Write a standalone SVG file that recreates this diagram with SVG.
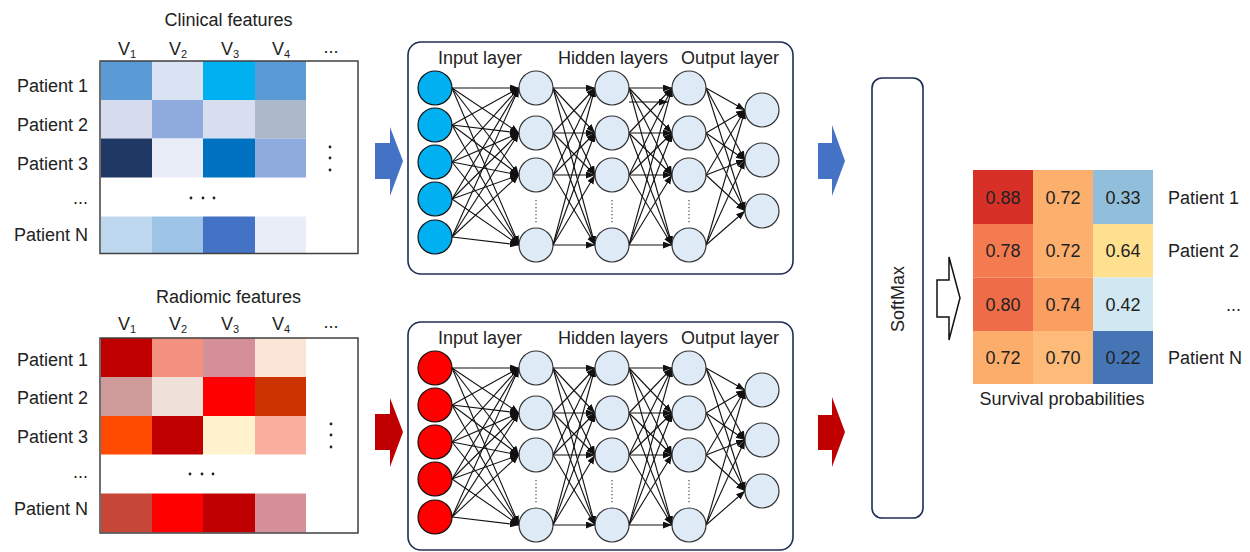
<svg xmlns="http://www.w3.org/2000/svg" width="1250" height="552" viewBox="0 0 1250 552">
<style>
text{font-family:"Liberation Sans",Arial,sans-serif;font-size:18px;fill:#222}
.r{text-anchor:end}
.m{text-anchor:middle}
.frame{fill:none;stroke:#404040;stroke-width:1.5}
.box{fill:#fff;stroke:#1F2D55;stroke-width:1.6}
.inB{fill:#00B0F0;stroke:#111;stroke-width:1.2}
.inR{fill:#FF0000;stroke:#111;stroke-width:1.2}
.hn{fill:#DEEBF7;stroke:#333;stroke-width:1.2}
.c line{stroke:#111;stroke-width:1.1;marker-end:url(#ah)}
.dot{fill:#222}
.vd{stroke:#555;stroke-width:1.3;stroke-dasharray:1.3 2.2}
.sub{font-size:11px}
</style>
<defs>
<marker id="ah" markerUnits="userSpaceOnUse" markerWidth="10" markerHeight="8" refX="9" refY="3.5" orient="auto">
<path d="M0,0 L9,3.5 L0,7 z" fill="#111"/>
</marker>
</defs>
<rect width="1250" height="552" fill="#fff"/>

<!-- Clinical matrix -->
<g id="clinical-matrix">
<text x="228.5" y="26" class="m">Clinical features</text>
<text x="118" y="55">V<tspan class="sub" dy="3">1</tspan></text>
<text x="169" y="55">V<tspan class="sub" dy="3">2</tspan></text>
<text x="221" y="55">V<tspan class="sub" dy="3">3</tspan></text>
<text x="272" y="55">V<tspan class="sub" dy="3">4</tspan></text>
<text x="331" y="53" class="m">...</text>
<text x="88" y="92" class="r">Patient 1</text>
<text x="88" y="131" class="r">Patient 2</text>
<text x="88" y="170" class="r">Patient 3</text>
<text x="88" y="204" class="r">...</text>
<text x="88" y="241" class="r">Patient N</text>
<rect x="101" y="61" width="51" height="39" fill="#5B9BD5"/>
<rect x="152" y="61" width="51" height="39" fill="#DAE3F3"/>
<rect x="203" y="61" width="52" height="39" fill="#00B0F0"/>
<rect x="255" y="61" width="51" height="39" fill="#5B9BD5"/>
<rect x="101" y="100" width="51" height="38.5" fill="#D6DCEE"/>
<rect x="152" y="100" width="51" height="38.5" fill="#8FAADC"/>
<rect x="203" y="100" width="52" height="38.5" fill="#D6DEF0"/>
<rect x="255" y="100" width="51" height="38.5" fill="#ADB9CA"/>
<rect x="101" y="138.5" width="51" height="39" fill="#203864"/>
<rect x="152" y="138.5" width="51" height="39" fill="#E9EDF7"/>
<rect x="203" y="138.5" width="52" height="39" fill="#0070C0"/>
<rect x="255" y="138.5" width="51" height="39" fill="#8FAADC"/>
<rect x="101" y="216.5" width="51" height="37" fill="#BDD7EE"/>
<rect x="152" y="216.5" width="51" height="37" fill="#9DC3E6"/>
<rect x="203" y="216.5" width="52" height="37" fill="#4472C4"/>
<rect x="255" y="216.5" width="51" height="37" fill="#E9EDF7"/>
<rect x="100" y="61" width="258" height="192.5" class="frame"/>
<circle cx="330" cy="147" r="1.4" class="dot"/><circle cx="330" cy="158" r="1.4" class="dot"/><circle cx="330" cy="170" r="1.4" class="dot"/>
<circle cx="191" cy="198" r="1.4" class="dot"/><circle cx="203" cy="198" r="1.4" class="dot"/><circle cx="214" cy="198" r="1.4" class="dot"/>
</g>

<!-- Radiomic matrix -->
<g id="radiomic-matrix">
<text x="228.5" y="303" class="m">Radiomic features</text>
<text x="118" y="330">V<tspan class="sub" dy="3">1</tspan></text>
<text x="169" y="330">V<tspan class="sub" dy="3">2</tspan></text>
<text x="221" y="330">V<tspan class="sub" dy="3">3</tspan></text>
<text x="272" y="330">V<tspan class="sub" dy="3">4</tspan></text>
<text x="331" y="328" class="m">...</text>
<text x="88" y="366" class="r">Patient 1</text>
<text x="88" y="404" class="r">Patient 2</text>
<text x="88" y="443" class="r">Patient 3</text>
<text x="88" y="478" class="r">...</text>
<text x="88" y="515" class="r">Patient N</text>
<rect x="101" y="338" width="51" height="39" fill="#C00000"/>
<rect x="152" y="338" width="51" height="39" fill="#F4907E"/>
<rect x="203" y="338" width="52" height="39" fill="#D48F98"/>
<rect x="255" y="338" width="51" height="39" fill="#FBE5D6"/>
<rect x="101" y="377" width="51" height="39" fill="#CE9A9A"/>
<rect x="152" y="377" width="51" height="39" fill="#EFE0DA"/>
<rect x="203" y="377" width="52" height="39" fill="#FF0000"/>
<rect x="255" y="377" width="51" height="39" fill="#CC3300"/>
<rect x="101" y="416" width="51" height="38.5" fill="#FF4B00"/>
<rect x="152" y="416" width="51" height="38.5" fill="#C00000"/>
<rect x="203" y="416" width="52" height="38.5" fill="#FFF2CC"/>
<rect x="255" y="416" width="51" height="38.5" fill="#FBB09F"/>
<rect x="101" y="493.5" width="51" height="39" fill="#C64637"/>
<rect x="152" y="493.5" width="51" height="39" fill="#FF0000"/>
<rect x="203" y="493.5" width="52" height="39" fill="#C00000"/>
<rect x="255" y="493.5" width="51" height="39" fill="#D48F98"/>
<rect x="100" y="338" width="258" height="195" class="frame"/>
<circle cx="331" cy="424" r="1.4" class="dot"/><circle cx="331" cy="435" r="1.4" class="dot"/><circle cx="331" cy="447" r="1.4" class="dot"/>
<circle cx="190" cy="474" r="1.4" class="dot"/><circle cx="202" cy="474" r="1.4" class="dot"/><circle cx="213" cy="474" r="1.4" class="dot"/>
</g>

<!-- Clinical network -->
<g id="nn-clinical">
<rect x="408" y="42" width="385" height="232" rx="13" class="box"/>
<text x="480" y="64" class="m">Input layer</text>
<text x="613" y="64" class="m">Hidden layers</text>
<text x="730" y="64" class="m">Output layer</text>
<g class="c">
<line x1="452" y1="88" x2="519" y2="88"/><line x1="452" y1="88" x2="519" y2="133"/><line x1="452" y1="88" x2="519" y2="175"/><line x1="452" y1="88" x2="519" y2="245"/>
<line x1="452" y1="125" x2="519" y2="88"/><line x1="452" y1="125" x2="519" y2="133"/><line x1="452" y1="125" x2="519" y2="175"/><line x1="452" y1="125" x2="519" y2="245"/>
<line x1="452" y1="162" x2="519" y2="88"/><line x1="452" y1="162" x2="519" y2="133"/><line x1="452" y1="162" x2="519" y2="175"/><line x1="452" y1="162" x2="519" y2="245"/>
<line x1="452" y1="199" x2="519" y2="88"/><line x1="452" y1="199" x2="519" y2="133"/><line x1="452" y1="199" x2="519" y2="175"/><line x1="452" y1="199" x2="519" y2="245"/>
<line x1="452" y1="237" x2="519" y2="88"/><line x1="452" y1="237" x2="519" y2="133"/><line x1="452" y1="237" x2="519" y2="175"/><line x1="452" y1="237" x2="519" y2="245"/>
<line x1="553" y1="88" x2="595" y2="88"/><line x1="553" y1="88" x2="595" y2="133"/><line x1="553" y1="88" x2="595" y2="175"/><line x1="553" y1="88" x2="595" y2="245"/>
<line x1="553" y1="133" x2="595" y2="88"/><line x1="553" y1="133" x2="595" y2="133"/><line x1="553" y1="133" x2="595" y2="175"/><line x1="553" y1="133" x2="595" y2="245"/>
<line x1="553" y1="175" x2="595" y2="88"/><line x1="553" y1="175" x2="595" y2="133"/><line x1="553" y1="175" x2="595" y2="175"/><line x1="553" y1="175" x2="595" y2="245"/>
<line x1="553" y1="245" x2="595" y2="88"/><line x1="553" y1="245" x2="595" y2="133"/><line x1="553" y1="245" x2="595" y2="175"/><line x1="553" y1="245" x2="595" y2="245"/>
<line x1="629" y1="88" x2="672" y2="88"/><line x1="629" y1="88" x2="672" y2="133"/><line x1="629" y1="88" x2="672" y2="175"/><line x1="629" y1="88" x2="672" y2="245"/>
<line x1="629" y1="133" x2="672" y2="88"/><line x1="629" y1="133" x2="672" y2="133"/><line x1="629" y1="133" x2="672" y2="175"/><line x1="629" y1="133" x2="672" y2="245"/>
<line x1="629" y1="175" x2="672" y2="88"/><line x1="629" y1="175" x2="672" y2="133"/><line x1="629" y1="175" x2="672" y2="175"/><line x1="629" y1="175" x2="672" y2="245"/>
<line x1="629" y1="245" x2="672" y2="88"/><line x1="629" y1="245" x2="672" y2="133"/><line x1="629" y1="245" x2="672" y2="175"/><line x1="629" y1="245" x2="672" y2="245"/>
<line x1="629" y1="102" x2="668" y2="102"/>
<line x1="706" y1="88" x2="745" y2="110"/><line x1="706" y1="88" x2="745" y2="160"/><line x1="706" y1="88" x2="745" y2="211"/>
<line x1="706" y1="133" x2="745" y2="110"/><line x1="706" y1="133" x2="745" y2="160"/><line x1="706" y1="133" x2="745" y2="211"/>
<line x1="706" y1="175" x2="745" y2="110"/><line x1="706" y1="175" x2="745" y2="160"/><line x1="706" y1="175" x2="745" y2="211"/>
<line x1="706" y1="245" x2="745" y2="110"/><line x1="706" y1="245" x2="745" y2="160"/><line x1="706" y1="245" x2="745" y2="211"/>
</g>
<circle cx="435" cy="88" r="17" class="inB"/><circle cx="435" cy="125" r="17" class="inB"/><circle cx="435" cy="162" r="17" class="inB"/><circle cx="435" cy="199" r="17" class="inB"/><circle cx="435" cy="237" r="17" class="inB"/>
<circle cx="536" cy="88" r="17" class="hn"/><circle cx="536" cy="133" r="17" class="hn"/><circle cx="536" cy="175" r="17" class="hn"/><circle cx="536" cy="245" r="17" class="hn"/>
<circle cx="612" cy="88" r="17" class="hn"/><circle cx="612" cy="133" r="17" class="hn"/><circle cx="612" cy="175" r="17" class="hn"/><circle cx="612" cy="245" r="17" class="hn"/>
<circle cx="689" cy="88" r="17" class="hn"/><circle cx="689" cy="133" r="17" class="hn"/><circle cx="689" cy="175" r="17" class="hn"/><circle cx="689" cy="245" r="17" class="hn"/>
<circle cx="762" cy="110" r="17" class="hn"/><circle cx="762" cy="160" r="17" class="hn"/><circle cx="762" cy="211" r="17" class="hn"/>
<line x1="536" y1="200" x2="536" y2="224" class="vd"/><line x1="612" y1="200" x2="612" y2="224" class="vd"/><line x1="689" y1="200" x2="689" y2="224" class="vd"/>
</g>

<!-- Radiomic network -->
<g id="nn-radiomic">
<rect x="408" y="322" width="385" height="228" rx="13" class="box"/>
<text x="480" y="344" class="m">Input layer</text>
<text x="613" y="344" class="m">Hidden layers</text>
<text x="730" y="344" class="m">Output layer</text>
<g class="c">
<line x1="452" y1="368" x2="519" y2="368"/><line x1="452" y1="368" x2="519" y2="413"/><line x1="452" y1="368" x2="519" y2="455"/><line x1="452" y1="368" x2="519" y2="525"/>
<line x1="452" y1="405" x2="519" y2="368"/><line x1="452" y1="405" x2="519" y2="413"/><line x1="452" y1="405" x2="519" y2="455"/><line x1="452" y1="405" x2="519" y2="525"/>
<line x1="452" y1="442" x2="519" y2="368"/><line x1="452" y1="442" x2="519" y2="413"/><line x1="452" y1="442" x2="519" y2="455"/><line x1="452" y1="442" x2="519" y2="525"/>
<line x1="452" y1="479" x2="519" y2="368"/><line x1="452" y1="479" x2="519" y2="413"/><line x1="452" y1="479" x2="519" y2="455"/><line x1="452" y1="479" x2="519" y2="525"/>
<line x1="452" y1="517" x2="519" y2="368"/><line x1="452" y1="517" x2="519" y2="413"/><line x1="452" y1="517" x2="519" y2="455"/><line x1="452" y1="517" x2="519" y2="525"/>
<line x1="553" y1="368" x2="595" y2="368"/><line x1="553" y1="368" x2="595" y2="413"/><line x1="553" y1="368" x2="595" y2="455"/><line x1="553" y1="368" x2="595" y2="525"/>
<line x1="553" y1="413" x2="595" y2="368"/><line x1="553" y1="413" x2="595" y2="413"/><line x1="553" y1="413" x2="595" y2="455"/><line x1="553" y1="413" x2="595" y2="525"/>
<line x1="553" y1="455" x2="595" y2="368"/><line x1="553" y1="455" x2="595" y2="413"/><line x1="553" y1="455" x2="595" y2="455"/><line x1="553" y1="455" x2="595" y2="525"/>
<line x1="553" y1="525" x2="595" y2="368"/><line x1="553" y1="525" x2="595" y2="413"/><line x1="553" y1="525" x2="595" y2="455"/><line x1="553" y1="525" x2="595" y2="525"/>
<line x1="629" y1="368" x2="672" y2="368"/><line x1="629" y1="368" x2="672" y2="413"/><line x1="629" y1="368" x2="672" y2="455"/><line x1="629" y1="368" x2="672" y2="525"/>
<line x1="629" y1="413" x2="672" y2="368"/><line x1="629" y1="413" x2="672" y2="413"/><line x1="629" y1="413" x2="672" y2="455"/><line x1="629" y1="413" x2="672" y2="525"/>
<line x1="629" y1="455" x2="672" y2="368"/><line x1="629" y1="455" x2="672" y2="413"/><line x1="629" y1="455" x2="672" y2="455"/><line x1="629" y1="455" x2="672" y2="525"/>
<line x1="629" y1="525" x2="672" y2="368"/><line x1="629" y1="525" x2="672" y2="413"/><line x1="629" y1="525" x2="672" y2="455"/><line x1="629" y1="525" x2="672" y2="525"/>
<line x1="706" y1="368" x2="745" y2="390"/><line x1="706" y1="368" x2="745" y2="440"/><line x1="706" y1="368" x2="745" y2="491"/>
<line x1="706" y1="413" x2="745" y2="390"/><line x1="706" y1="413" x2="745" y2="440"/><line x1="706" y1="413" x2="745" y2="491"/>
<line x1="706" y1="455" x2="745" y2="390"/><line x1="706" y1="455" x2="745" y2="440"/><line x1="706" y1="455" x2="745" y2="491"/>
<line x1="706" y1="525" x2="745" y2="390"/><line x1="706" y1="525" x2="745" y2="440"/><line x1="706" y1="525" x2="745" y2="491"/>
</g>
<circle cx="435" cy="368" r="17" class="inR"/><circle cx="435" cy="405" r="17" class="inR"/><circle cx="435" cy="442" r="17" class="inR"/><circle cx="435" cy="479" r="17" class="inR"/><circle cx="435" cy="517" r="17" class="inR"/>
<circle cx="536" cy="368" r="17" class="hn"/><circle cx="536" cy="413" r="17" class="hn"/><circle cx="536" cy="455" r="17" class="hn"/><circle cx="536" cy="525" r="17" class="hn"/>
<circle cx="612" cy="368" r="17" class="hn"/><circle cx="612" cy="413" r="17" class="hn"/><circle cx="612" cy="455" r="17" class="hn"/><circle cx="612" cy="525" r="17" class="hn"/>
<circle cx="689" cy="368" r="17" class="hn"/><circle cx="689" cy="413" r="17" class="hn"/><circle cx="689" cy="455" r="17" class="hn"/><circle cx="689" cy="525" r="17" class="hn"/>
<circle cx="762" cy="390" r="17" class="hn"/><circle cx="762" cy="440" r="17" class="hn"/><circle cx="762" cy="491" r="17" class="hn"/>
<line x1="536" y1="480" x2="536" y2="504" class="vd"/><line x1="612" y1="480" x2="612" y2="504" class="vd"/><line x1="689" y1="480" x2="689" y2="504" class="vd"/>
</g>

<!-- SoftMax -->
<g id="softmax">
<rect x="872" y="78" width="51" height="440" rx="10" class="box"/>
<text transform="translate(904,299) rotate(-90)" class="m">SoftMax</text>
</g>

<!-- Survival probabilities -->
<g id="survival-matrix">
<rect x="973" y="170" width="60" height="54" fill="#D73027"/>
<rect x="1033" y="170" width="60" height="54" fill="#FDB06D"/>
<rect x="1093" y="170" width="60" height="54" fill="#91BFDB"/>
<rect x="973" y="224" width="60" height="53.5" fill="#F47A50"/>
<rect x="1033" y="224" width="60" height="53.5" fill="#FDB06D"/>
<rect x="1093" y="224" width="60" height="53.5" fill="#FEE090"/>
<rect x="973" y="277.5" width="60" height="53.5" fill="#EF6C49"/>
<rect x="1033" y="277.5" width="60" height="53.5" fill="#FB9E62"/>
<rect x="1093" y="277.5" width="60" height="53.5" fill="#D1E7F2"/>
<rect x="973" y="331" width="60" height="53" fill="#FCAD6B"/>
<rect x="1033" y="331" width="60" height="53" fill="#FDBA78"/>
<rect x="1093" y="331" width="60" height="53" fill="#4575B4"/>
<text x="1003" y="203.5" class="m">0.88</text><text x="1063" y="203.5" class="m">0.72</text><text x="1123" y="203.5" class="m">0.33</text>
<text x="1003" y="257" class="m">0.78</text><text x="1063" y="257" class="m">0.72</text><text x="1123" y="257" class="m">0.64</text>
<text x="1003" y="310.5" class="m">0.80</text><text x="1063" y="310.5" class="m">0.74</text><text x="1123" y="310.5" class="m">0.42</text>
<text x="1003" y="364" class="m">0.72</text><text x="1063" y="364" class="m">0.70</text><text x="1123" y="364" class="m">0.22</text>
<text x="1168" y="203.5">Patient 1</text>
<text x="1168" y="257">Patient 2</text>
<text x="1241" y="310.5" class="r">...</text>
<text x="1168" y="364">Patient N</text>
<text x="1062" y="405" class="m">Survival probabilities</text>
</g>

<!-- Flow arrows -->
<g id="connectors">
<polygon points="375,143 390,143 390,127 403,161 390,196 390,179 375,179" fill="#4472C4"/>
<polygon points="375,414 390,414 390,398 403,432 390,467 390,450 375,450" fill="#C00000"/>
<polygon points="818,143 832,143 832,125 845,161 832,196 832,179 818,179" fill="#4472C4"/>
<polygon points="818,415 832,415 832,397 845,432 832,467 832,450 818,450" fill="#C00000"/>
<polygon points="937,280 949,280 949,257 960,298 949,340 949,317 937,317" fill="#fff" stroke="#111" stroke-width="1.5"/>
</g>
</svg>
